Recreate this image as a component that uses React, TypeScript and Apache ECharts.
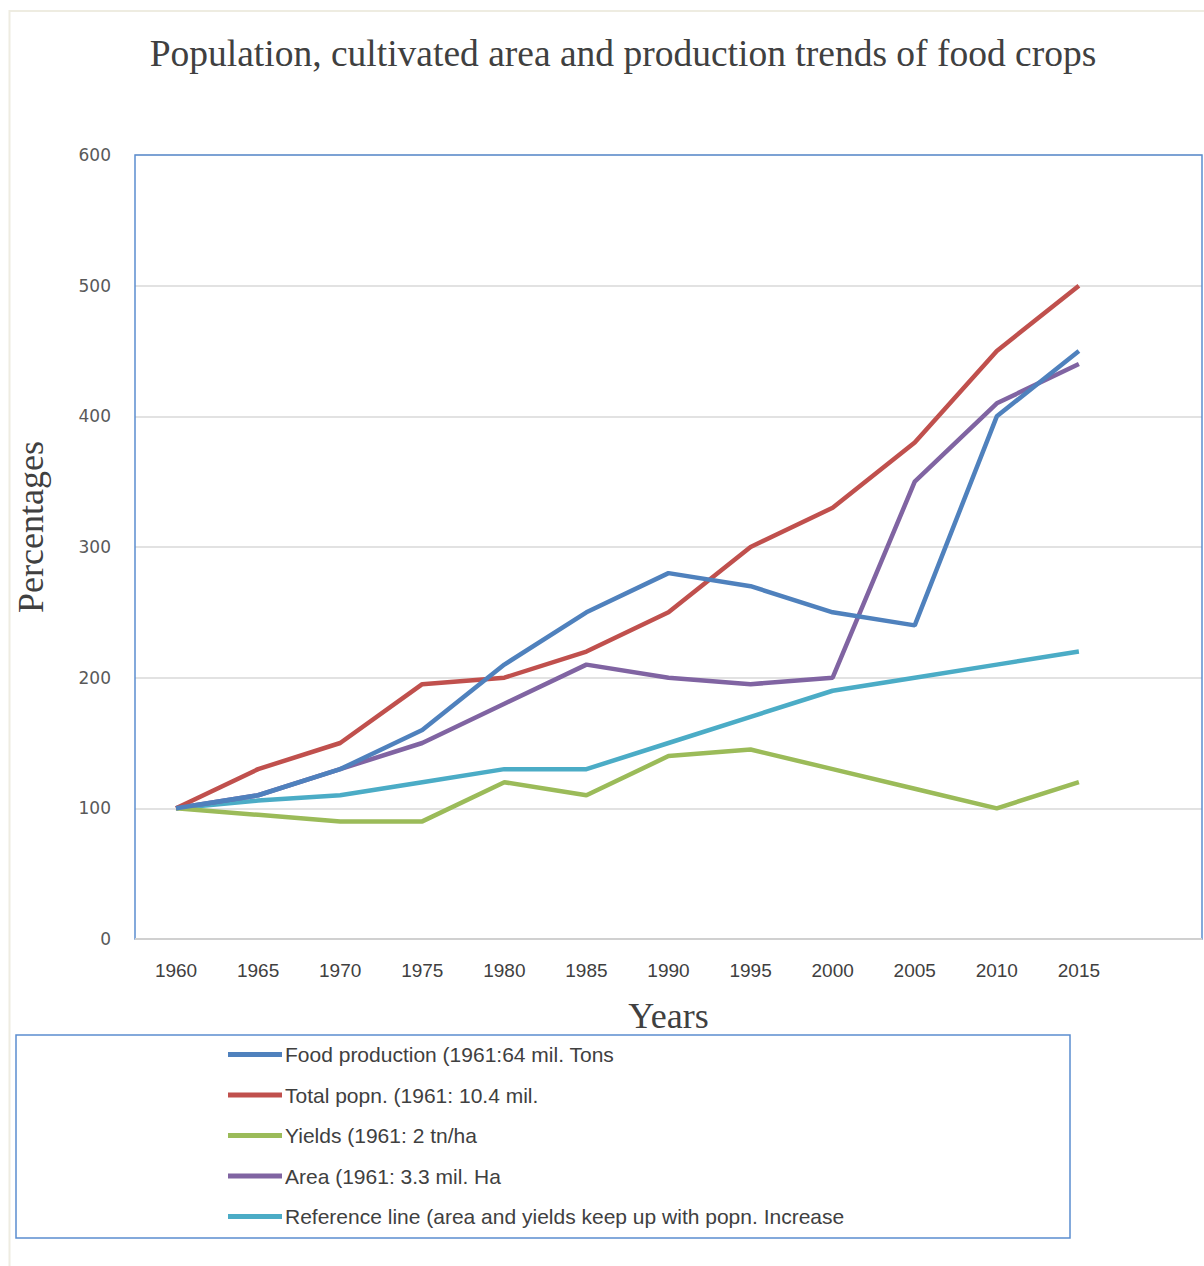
import React, { useEffect, useRef } from "react";
import * as echarts from "echarts";

const years = ["1960", "1965", "1970", "1975", "1980", "1985", "1990", "1995", "2000", "2005", "2010", "2015", ""];
const yTicks = [0, 100, 200, 300, 400, 500, 600];

const foodProduction = [100, 110, 130, 160, 210, 250, 280, 270, 250, 240, 400, 450];
const totalPopn = [100, 130, 150, 195, 200, 220, 250, 300, 330, 380, 450, 500];
const yields = [100, 95, 90, 90, 120, 110, 140, 145, 130, 115, 100, 120];
const area = [100, 110, 130, 150, 180, 210, 200, 195, 200, 350, 410, 440];
const referenceLine = [100, 106, 110, 120, 130, 130, 150, 170, 190, 200, 210, 220];

const seriesNames = [
  "Food production (1961:64 mil. Tons",
  "Total popn. (1961: 10.4 mil.",
  "Yields (1961: 2 tn/ha",
  "Area (1961: 3.3 mil. Ha",
  "Reference line (area and yields keep up with popn. Increase",
];
const seriesData = [foodProduction, totalPopn, yields, area, referenceLine];
const colors = ["#4F81BD", "#C0504D", "#9BBB59", "#8064A2", "#4BACC6"];

const sans = "'Liberation Sans', Arial, sans-serif";
const serif = "'Liberation Serif', 'DejaVu Serif', serif";

export default function App() {
  const ref = useRef<HTMLDivElement>(null);
  useEffect(() => {
    if (!ref.current) return;
    const chart = echarts.init(ref.current, null, { renderer: "svg" });
    chart.setOption({
      animation: false,
      backgroundColor: "#ffffff",
      title: {
        text: "Population, cultivated area and production trends of food crops",
        left: 618,
        textAlign: "center",
        top: 29,
        textStyle: { fontFamily: serif, fontSize: 37.5, fontWeight: "normal", color: "#404040" },
      },
      grid: {
        left: 135,
        top: 155,
        width: 1067,
        height: 784,
        containLabel: false,
        outerBoundsMode: "none",
      },
      xAxis: {
        type: "category",
        data: years,
        boundaryGap: true,
        axisLine: { show: false },
        axisTick: { show: false },
        axisLabel: { fontFamily: sans, fontSize: 19, color: "#404040", margin: 22, interval: 0 },
        name: "Years",
        nameLocation: "middle",
        nameGap: 59,
        nameTextStyle: { fontFamily: serif, fontSize: 36, color: "#404040" },
        splitLine: { show: false },
      },
      yAxis: {
        type: "value",
        min: 0,
        max: 600,
        interval: 100,
        axisLine: { show: false },
        axisTick: { show: false },
        axisLabel: {
          fontFamily: "'DejaVu Sans', Verdana, sans-serif",
          fontSize: 17,
          color: "#595959",
          margin: 24,
          formatter: (v: number) => (yTicks.includes(v) ? String(v) : ""),
        },
        splitLine: { show: true, lineStyle: { color: "#D9D9D9", width: 1.5 } },
        name: "Percentages",
        nameLocation: "middle",
        nameGap: 86,
        nameRotate: 90,
        nameTextStyle: { fontFamily: serif, fontSize: 36, color: "#404040", padding: [0, 0, 0, 40] },
      },
      legend: {
        orient: "vertical",
        left: 223,
        top: 1039,
        itemWidth: 54,
        itemHeight: 5,
        itemGap: 19.5,
        icon: "rect",
        data: seriesNames,
        textStyle: { fontFamily: sans, fontSize: 21, color: "#404040", padding: [0, 0, 0, -2] },
      },
      graphic: [
        {
          type: "rect",
          shape: { x: 9.5, y: 11, width: 1300, height: 1300 },
          style: { fill: "none", stroke: "#EEECE1", lineWidth: 2 },
          silent: true,
        },
        {
          type: "rect",
          shape: { x: 135, y: 155, width: 1067, height: 784 },
          style: { fill: "none", stroke: "#5B8DD0", lineWidth: 1.5 },
          silent: true,
          z: 10,
        },
        {
          type: "line",
          shape: { x1: 135, y1: 939, x2: 1202, y2: 939 },
          style: { stroke: "#D0D0D0", lineWidth: 2 },
          silent: true,
          z: 11,
        },
        {
          type: "rect",
          shape: { x: 16, y: 1035, width: 1054, height: 203 },
          style: { fill: "none", stroke: "#5B8DD0", lineWidth: 1.5 },
          silent: true,
        },
      ],
      series: seriesNames.map((name, i) => ({
        name,
        type: "line",
        data: seriesData[i],
        symbol: "none",
        lineStyle: { color: colors[i], width: 4.5 },
        itemStyle: { color: colors[i] },
        z: 5 - i,
      })),
    });
    return () => chart.dispose();
  }, []);
  return (
    <div
      ref={ref}
      style={{ position: "absolute", left: 0, top: 0, width: 1204, height: 1266 }}
    />
  );
}
